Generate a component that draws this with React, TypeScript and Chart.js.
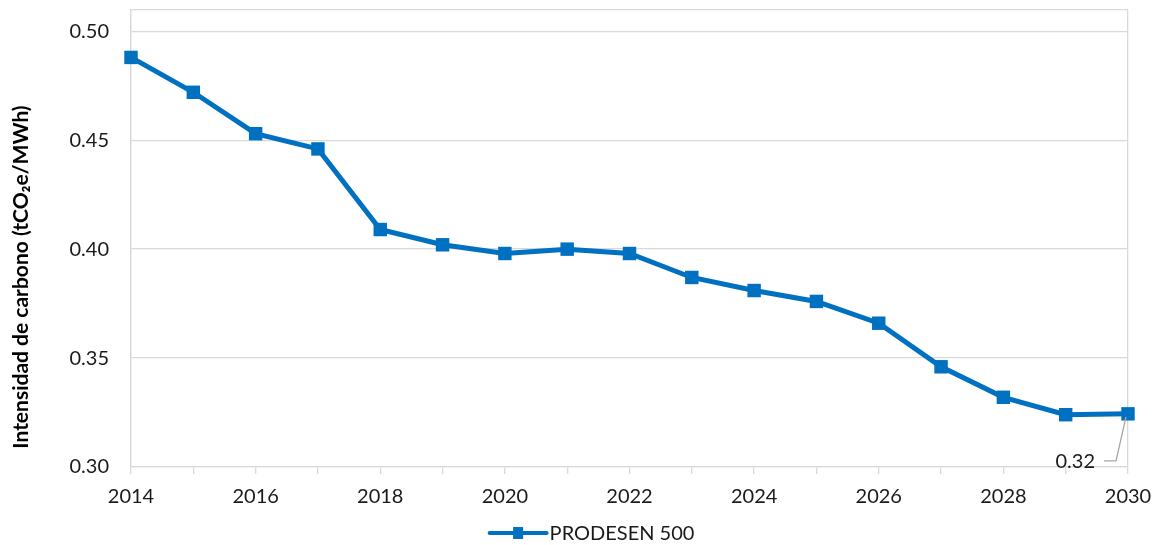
import React, { useEffect, useRef } from "react";
import { Chart, registerables } from "chart.js";

Chart.register(...registerables);

const years = [2014, 2015, 2016, 2017, 2018, 2019, 2020, 2021, 2022, 2023, 2024, 2025, 2026, 2027, 2028, 2029, 2030];
const intensity = [0.488, 0.472, 0.453, 0.446, 0.409, 0.402, 0.398, 0.4, 0.398, 0.387, 0.381, 0.376, 0.366, 0.346, 0.332, 0.324, 0.3244];
const yTicks = [0.3, 0.35, 0.4, 0.45, 0.5];
const seriesName = "PRODESEN 500";
const yTitle = "Intensidad de carbono (tCO₂e/MWh)";

const BLUE = "#0070C0";
const GRID = "#d9d9d9";
const FONT = "Lato, 'Open Sans', sans-serif";

export default function App() {
  const ref = useRef<HTMLCanvasElement | null>(null);

  useEffect(() => {
    document.body.style.margin = "0";
    const canvas = ref.current;
    if (!canvas) return;

    const extras = {
      id: "extras",
      afterDraw(chart: any) {
        const ctx = chart.ctx;
        const area = chart.chartArea;
        // y-axis title
        ctx.save();
        ctx.translate(21, 277);
        ctx.rotate(-Math.PI / 2);
        ctx.font = `bold 21px ${FONT}`;
        ctx.fillStyle = "#000";
        ctx.textAlign = "center";
        ctx.textBaseline = "middle";
        ctx.fillText(yTitle, 0, 0);
        ctx.restore();

        // data label on last point
        const meta = chart.getDatasetMeta(0);
        const last = meta.data[meta.data.length - 1];
        const v = intensity[intensity.length - 1];
        const px = last.x, py = last.y;
        ctx.save();
        ctx.strokeStyle = "#a6a6a6";
        ctx.lineWidth = 1.3;
        ctx.beginPath();
        ctx.moveTo(px - 24, py + 47);
        ctx.lineTo(px - 12, py + 47);
        ctx.lineTo(px - 2, py + 3);
        ctx.stroke();
        ctx.font = `20px ${FONT}`;
        ctx.fillStyle = "#1a1a1a";
        ctx.textAlign = "right";
        ctx.textBaseline = "middle";
        ctx.fillText((Math.round(v * 100) / 100).toFixed(2), px - 33, py + 48);
        ctx.restore();

        // legend
        const cx = (area.left + area.right) / 2;
        const ly = 533;
        ctx.save();
        ctx.font = `20px ${FONT}`;
        const tw = ctx.measureText(seriesName).width;
        const total = 57 + 4 + tw;
        const x0 = cx - total / 2 - 37;
        ctx.strokeStyle = BLUE;
        ctx.lineWidth = 4;
        ctx.lineCap = "round";
        ctx.beginPath();
        ctx.moveTo(x0, ly);
        ctx.lineTo(x0 + 57, ly);
        ctx.stroke();
        ctx.fillStyle = BLUE;
        ctx.fillRect(x0 + 28.5 - 5, ly - 6, 10, 12);
        ctx.fillStyle = "#1a1a1a";
        ctx.textAlign = "left";
        ctx.textBaseline = "middle";
        ctx.fillText(seriesName, x0 + 60, ly + 1);
        ctx.restore();
      },
    };

    const chart = new Chart(canvas, {
      type: "line",
      data: {
        datasets: [
          {
            label: seriesName,
            data: years.map((y, i) => ({ x: y, y: intensity[i] })),
            borderColor: BLUE,
            backgroundColor: BLUE,
            borderWidth: 5,
            pointStyle: "rect",
            pointRadius: 9.5,
            pointBorderWidth: 0,
            pointBackgroundColor: BLUE,
            tension: 0,
            clip: false,
          } as any,
        ],
      },
      options: {
        animation: false,
        responsive: false,
        layout: { padding: { left: 0, right: 30, top: 7, bottom: 0 } },
        plugins: {
          legend: { display: false },
          tooltip: { enabled: false },
        },
        scales: {
          x: {
            type: "linear",
            min: 2014,
            max: 2030,
            afterBuildTicks(scale: any) {
              scale.ticks = years.map((v) => ({ value: v }));
            },
            afterFit(scale: any) {
              scale.height = 78;
              scale.paddingLeft = 0;
              scale.paddingRight = 0;
            },
            grid: {
              color: (c: any) => (c.tick && (c.tick.value === 2014 || c.tick.value === 2030) ? GRID : "rgba(0,0,0,0)"),
              tickColor: GRID,
              tickLength: 7,
              lineWidth: 1.3,
            },
            border: { color: GRID, width: 1.3 },
            ticks: {
              autoSkip: false,
              maxRotation: 0,
              padding: 11,
              color: "#1a1a1a",
              font: { family: FONT, size: 20 },
              callback: (v: any) => (Number(v) % 2 === 0 ? String(v) : ""),
            },
          },
          y: {
            type: "linear",
            min: 0.3,
            max: 0.51,
            afterBuildTicks(scale: any) {
              scale.ticks = [...yTicks, 0.51].map((v) => ({ value: v }));
            },
            afterFit(scale: any) {
              scale.width = 131;
              scale.paddingTop = 0;
              scale.paddingBottom = 0;
            },
            grid: { color: GRID, lineWidth: 1.3, drawTicks: false },
            border: { color: GRID, width: 1.3 },
            ticks: {
              padding: 22,
              color: "#1a1a1a",
              font: { family: FONT, size: 20 },
              callback: (v: any) => (yTicks.some((t) => Math.abs(t - Number(v)) < 1e-9) ? Number(v).toFixed(2) : ""),
            },
          },
        },
      },
      plugins: [extras],
    });
    return () => chart.destroy();
  }, []);

  return (
    <div style={{ width: 1158, height: 545 }}>
      <canvas ref={ref} width={1158} height={545} style={{ display: "block" }} />
    </div>
  );
}
